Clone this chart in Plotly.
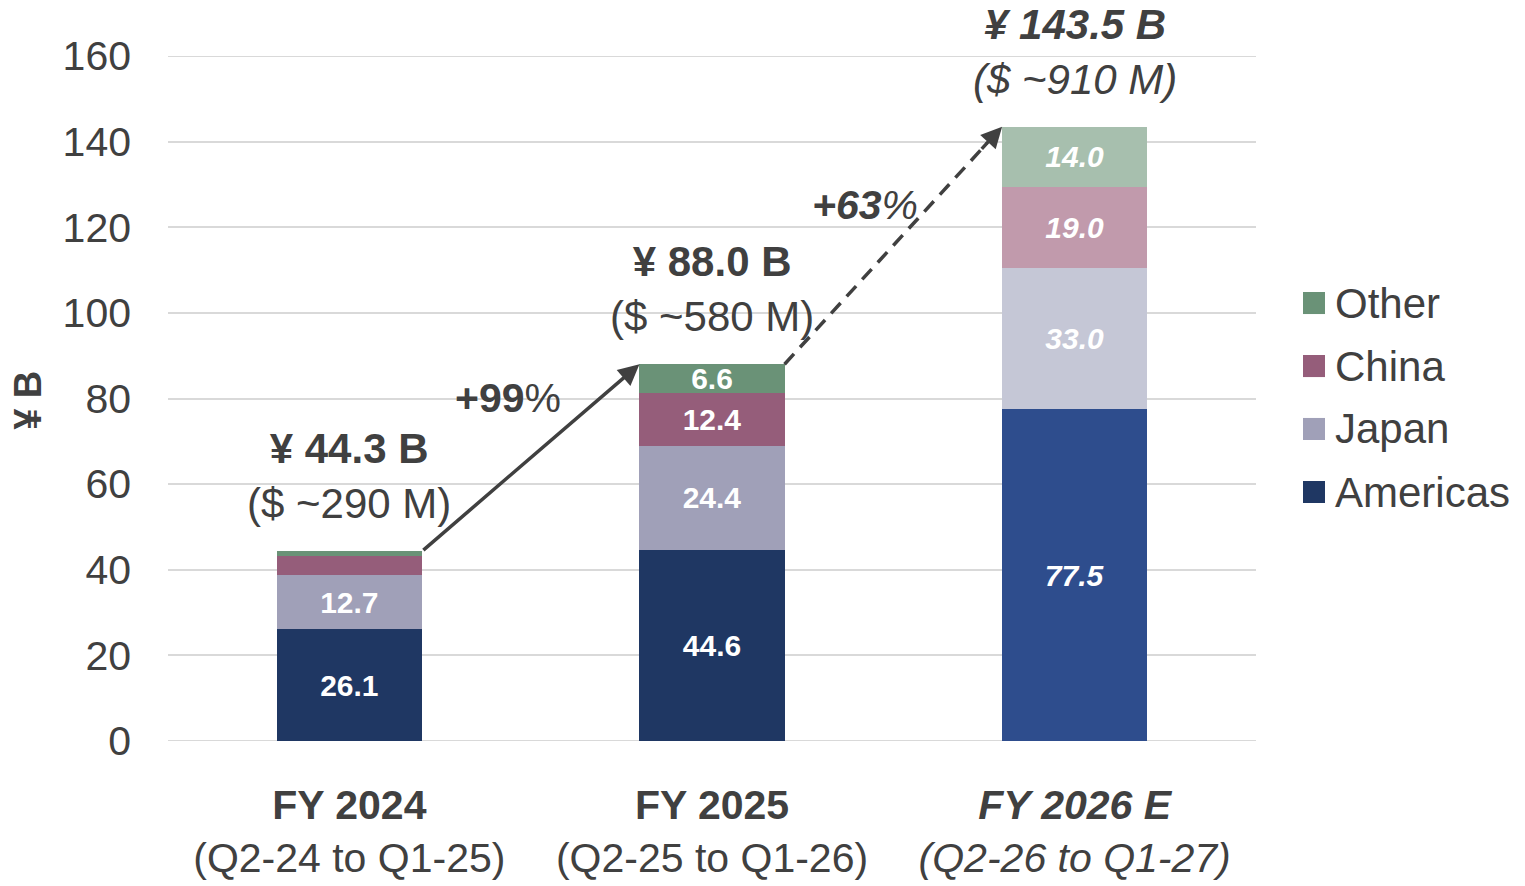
import plotly.graph_objects as go

# ---------------- data ----------------
categories = ["FY 2024", "FY 2025", "FY 2026 E"]
periods = ["(Q2-24 to Q1-25)", "(Q2-25 to Q1-26)", "(Q2-26 to Q1-27)"]
americas = [26.1, 44.6, 77.5]
japan = [12.7, 24.4, 33.0]
china = [4.5, 12.4, 19.0]
other = [1.0, 6.6, 14.0]
usd_m = [290, 580, 910]
growth_labels = ["+99", "+63"]
estimate = [False, False, True]

series = [
    ("Americas", americas, "#1F3763", "#2E4D8D"),
    ("Japan", japan, "#A0A0B8", "#C5C7D6"),
    ("China", china, "#955D7A", "#C19AAC"),
    ("Other", other, "#6A9277", "#A7BFAE"),
]

TXT = "#404040"
GRID = "#D9D9D9"
FONT = "Arial, 'Liberation Sans', sans-serif"

fig = go.Figure()
for name, vals, col, col_e in series:
    texts = []
    for v, e in zip(vals, estimate):
        if v < 5:
            texts.append("")
        elif e:
            texts.append(f"<b><i>{v:.1f}</i></b>")
        else:
            texts.append(f"<b>{v:.1f}</b>")
    fig.add_trace(go.Bar(
        name=name, x=list(range(len(categories))), y=vals,
        marker=dict(color=[col_e if e else col for e in estimate], line=dict(width=0)),
        text=texts, texttemplate="%{text}", textposition="inside",
        insidetextanchor="middle",
        textfont=dict(color="white", size=30, family=FONT),
        showlegend=False, hoverinfo="skip",
    ))

totals = [round(a + b + c + d, 1) for a, b, c, d in zip(americas, japan, china, other)]

annotations = []
# total labels above bars
for i, (t, u, e) in enumerate(zip(totals, usd_m, estimate)):
    if e:
        txt = f"<b><i>¥ {t:.1f} B</i></b><br><i>($ ~{u} M)</i>"
    else:
        txt = f"<b>¥ {t:.1f} B</b><br>($ ~{u} M)"
    annotations.append(dict(x=i, y=t, xref="x", yref="y", text=txt, showarrow=False,
                            yanchor="bottom", yshift=22, font=dict(size=42, color=TXT, family=FONT)))

half = 0.2
# solid arrow FY24 -> FY25
annotations.append(dict(x=1 - half, y=totals[1], ax=0 + half, ay=totals[0], xref="x", yref="y",
                        axref="x", ayref="y", text="", showarrow=True, arrowhead=2, arrowsize=1.2,
                        arrowwidth=3.5, arrowcolor=TXT, standoff=0, startstandoff=0))
# dashed arrow FY25 -> FY26 : line + head
x0, y0, x1, y1 = 1 + half, totals[1], 2 - half, totals[2]
fig.add_shape(type="line", xref="x", yref="y", x0=x0, y0=y0,
              x1=x0 + (x1 - x0) * 0.93, y1=y0 + (y1 - y0) * 0.93,
              line=dict(color=TXT, width=3.5, dash="14px,9px"))
annotations.append(dict(x=x1, y=y1, ax=x0 + (x1 - x0) * 0.9, ay=y0 + (y1 - y0) * 0.9, xref="x", yref="y",
                        axref="x", ayref="y", text="", showarrow=True, arrowhead=2, arrowsize=1.2,
                        arrowwidth=3.5, arrowcolor=TXT, standoff=0, startstandoff=0))

# growth labels
annotations.append(dict(x=0.4375, y=80.1, xref="x", yref="y", text=f"<b>{growth_labels[0]}</b>%",
                        showarrow=False, font=dict(size=41, color=TXT, family=FONT)))
annotations.append(dict(x=1.422, y=125.2, xref="x", yref="y", text=f"<b><i>{growth_labels[1]}</i></b><i>%</i>",
                        showarrow=False, font=dict(size=41, color=TXT, family=FONT)))

# y-axis title
annotations.append(dict(x=-0.1287, y=0.498, xref="paper", yref="paper", text="<b>¥ B</b>",
                        textangle=-90, showarrow=False, xanchor="center", yanchor="middle",
                        font=dict(size=38, color=TXT, family=FONT)))

# boundary gridlines (0 and 160)
for gy in (0, 160):
    fig.add_shape(type="line", xref="paper", yref="y", x0=0, x1=1, y0=gy, y1=gy,
                  line=dict(color=GRID, width=2), layer="below")

# manual legend (top to bottom)
legend_y = [0.6394, 0.5474, 0.4555, 0.3635]
for (name, vals, col, col_e), ly in zip(reversed(series), legend_y):
    fig.add_shape(type="rect", xref="paper", yref="paper", x0=1.0432, x1=1.0634,
                  y0=ly - 0.0161, y1=ly + 0.0161, fillcolor=col, line=dict(width=0))
    annotations.append(dict(x=1.0705, y=ly, xref="paper", yref="paper", text=name, showarrow=False,
                            xanchor="left", yanchor="middle", font=dict(size=42, color=TXT, family=FONT)))

ticktext = []
for c, p, e in zip(categories, periods, estimate):
    if e:
        ticktext.append(f"<b><i>{c}</i></b><br><i>{p}</i>")
    else:
        ticktext.append(f"<b>{c}</b><br>{p}")

fig.update_layout(
    barmode="stack", bargap=0.6,
    width=1525, height=886,
    margin=dict(l=168, r=269, t=56, b=145, autoexpand=False),
    paper_bgcolor="white", plot_bgcolor="white",
    font=dict(family=FONT, color=TXT),
    annotations=annotations,
    uniformtext=dict(minsize=30, mode="show"),
    xaxis=dict(tickmode="array", tickvals=list(range(len(categories))), ticktext=ticktext,
               range=[-0.5, 2.5], showgrid=False, zeroline=False, showline=False,
               tickfont=dict(size=41, color=TXT, family=FONT), ticks="", ticklabelstandoff=36),
    yaxis=dict(range=[0, 160], dtick=20, showgrid=True, gridcolor=GRID, gridwidth=2,
               zeroline=False, showline=False, ticks="",
               tickfont=dict(size=41, color=TXT, family=FONT), ticklabelstandoff=36),
)

fig.write_html("out.html", config={"displayModeBar": False},
               post_script="document.body.style.margin='0px';")
